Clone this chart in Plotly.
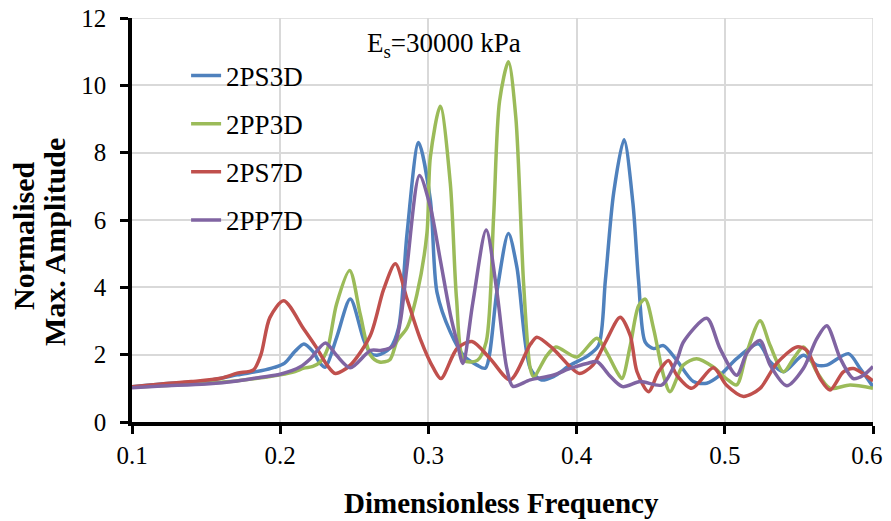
import plotly.graph_objects as go

# ---- data ----
x_2ps3d = [0.1, 0.12, 0.15, 0.171, 0.187, 0.196, 0.203, 0.21, 0.216, 0.222, 0.227, 0.2305, 0.238, 0.2473,
           0.2563, 0.2608, 0.2653, 0.2743, 0.2799, 0.2856, 0.2934, 0.3013, 0.3058, 0.3148, 0.3237, 0.3328,
           0.3384, 0.3463, 0.354, 0.3597, 0.3687, 0.376, 0.3844, 0.3957, 0.407, 0.4148, 0.4194, 0.425, 0.432,
           0.438, 0.4418, 0.4463, 0.452, 0.4586, 0.4676, 0.4788, 0.4878, 0.4968, 0.508, 0.5227, 0.5306,
           0.5396, 0.553, 0.562, 0.5688, 0.5834, 0.5913, 0.6]
y_2ps3d = [1.05, 1.13, 1.22, 1.4, 1.52, 1.62, 1.75, 2.1, 2.32, 2.1, 1.74, 1.63, 2.5, 3.65,
           2.45, 2.05, 1.98, 2.2, 2.8, 5.6, 8.3, 6.6, 3.85, 2.67, 1.98, 1.69,
           1.6, 3.9, 5.6, 4.6, 1.6, 1.25, 1.35, 1.69, 1.95, 2.27, 4.2, 6.8, 8.38,
           6.5, 4.2, 2.37, 2.18, 2.27, 1.83, 1.2, 1.15, 1.39, 1.88, 2.32, 1.79,
           1.49, 1.98, 1.69, 1.69, 2.03, 1.59, 1.05]

x_2pp3d = [0.1, 0.12, 0.15, 0.17, 0.19, 0.2, 0.21, 0.216, 0.222, 0.227, 0.232, 0.238, 0.2469, 0.254,
           0.261, 0.267, 0.274, 0.2788, 0.2856, 0.2923, 0.299, 0.3013, 0.308, 0.3148, 0.319, 0.324, 0.333,
           0.339, 0.344, 0.348, 0.354, 0.359, 0.3642, 0.3687, 0.371, 0.38, 0.386, 0.4002, 0.4137, 0.4204,
           0.4272, 0.4306, 0.4362, 0.4418, 0.4463, 0.452, 0.4586, 0.463, 0.472, 0.481, 0.492, 0.501, 0.508,
           0.5148, 0.5238, 0.5306, 0.5396, 0.5463, 0.553, 0.562, 0.571, 0.5845, 0.6]
y_2pp3d = [1.03, 1.08, 1.15, 1.22, 1.33, 1.4, 1.5, 1.6, 1.65, 1.78, 2.18, 3.5, 4.5, 3.2,
           1.98, 1.78, 1.85, 2.4, 2.8, 3.8, 5.6, 7.86, 9.38, 7.08, 3.65, 1.83, 1.83,
           2.38, 6.1, 9.53, 10.7, 9.04, 4.14, 1.59, 1.34, 1.98, 2.23, 1.93, 2.49, 2.06,
           1.49, 1.29, 2.27, 3.45, 3.65, 2.76, 1.39, 0.9, 1.69, 1.88, 1.64, 1.29, 1.1,
           2.06, 3.01, 2.27, 1.49, 1.88, 2.23, 1.49, 1.0, 1.1, 1.0]

x_2ps7d = [0.1, 0.12, 0.14, 0.16, 0.171, 0.182, 0.187, 0.193, 0.2024, 0.2159, 0.2249, 0.2316, 0.2372,
           0.2473, 0.2608, 0.2698, 0.2777, 0.2856, 0.2945, 0.3035, 0.3085, 0.3193, 0.3294, 0.3417, 0.3552,
           0.3687, 0.3732, 0.384, 0.3957, 0.402, 0.411, 0.42, 0.4294, 0.4362, 0.4407, 0.4485, 0.4553,
           0.462, 0.4676, 0.4777, 0.4923, 0.501, 0.5126, 0.5238, 0.535, 0.5486, 0.5553, 0.5643, 0.571,
           0.58, 0.5867, 0.6]
y_2ps7d = [1.05, 1.13, 1.2, 1.3, 1.45, 1.55, 2.0, 3.1, 3.6, 2.76, 2.18, 1.69, 1.44,
           1.69, 2.57, 3.94, 4.7, 3.65, 2.47, 1.59, 1.29, 2.18, 2.39, 1.88, 1.25,
           2.3, 2.52, 2.18, 1.64, 1.44, 1.69, 2.42, 3.11, 2.57, 1.5, 0.9, 1.49,
           1.83, 1.39, 1.0, 1.61, 1.1, 0.76, 1.0, 1.74, 2.23, 2.13, 1.29, 0.95,
           1.49, 1.59, 1.22]

x_2pp7d = [0.1, 0.12, 0.15, 0.171, 0.187, 0.2, 0.2136, 0.2204, 0.2305, 0.238, 0.2473, 0.261, 0.2685,
           0.2766, 0.2811, 0.2856, 0.294, 0.3013, 0.308, 0.3148, 0.3193, 0.3233, 0.33, 0.339, 0.346,
           0.3529, 0.357, 0.3687, 0.384, 0.3957, 0.407, 0.414, 0.422, 0.431, 0.4429, 0.4575, 0.468, 0.472,
           0.4878, 0.4968, 0.508, 0.515, 0.5238, 0.5306, 0.5418, 0.553, 0.562, 0.5688, 0.578, 0.5867,
           0.5935, 0.6]
y_2pp7d = [1.02, 1.07, 1.13, 1.22, 1.33, 1.42, 1.64, 1.88, 2.35, 1.98, 1.61, 2.13, 2.13,
           2.27, 3.0, 4.63, 7.32, 6.39, 4.82, 3.2, 2.38, 1.74, 3.55, 5.7, 3.94,
           1.59, 1.06, 1.25, 1.39, 1.59, 1.74, 1.79, 1.39, 1.05, 1.2, 1.1, 1.88, 2.37,
           3.08, 2.18, 1.39, 2.06, 2.42, 1.69, 1.08, 1.59, 2.47, 2.86, 1.88, 1.29,
           1.39, 1.65]

series = [
    ("2PS3D", x_2ps3d, y_2ps3d, "#4F81BD"),
    ("2PP3D", x_2pp3d, y_2pp3d, "#9BBB59"),
    ("2PS7D", x_2ps7d, y_2ps7d, "#C0504D"),
    ("2PP7D", x_2pp7d, y_2pp7d, "#8064A2"),
]

x_ticks = [0.1, 0.2, 0.3, 0.4, 0.5, 0.6]
y_ticks = [0, 2, 4, 6, 8, 10, 12]

FONT = "Liberation Serif"
FS = 27
TFS = 25

# last x label padded on the right so it stays inside the visible page area
x_ticktext = [str(t) for t in x_ticks]
x_ticktext[-1] = x_ticktext[-1] + "\u00a0\u00a0"

fig = go.Figure()
for i, (name, xs, ys, col) in enumerate(series):
    fig.add_trace(go.Scatter(
        x=xs, y=ys, name=name, mode="lines", legendgroup=f"g{i}",
        line=dict(color=col, width=3.5, shape="spline", smoothing=0.8),
    ))

# the page body adds an 8px margin, so the figure is sized to fit inside the window after it
fig.update_layout(
    width=875, height=513,
    margin=dict(l=124, r=10, t=10, b=99, autoexpand=False),
    paper_bgcolor="white", plot_bgcolor="white",
    font=dict(family=FONT, size=FS, color="black"),
    showlegend=True,
    legend=dict(x=0.073, y=0.917, xanchor="left", yanchor="top",
                bgcolor="rgba(0,0,0,0)", font=dict(size=FS, family=FONT),
                tracegroupgap=10),
    annotations=[
        dict(text="E<sub>s</sub>=30000 kPa", x=0.3105, y=11.19, xref="x", yref="y",
             showarrow=False, font=dict(size=FS, family=FONT)),
        dict(text="<b>Normalised</b>", x=-0.1457, y=0.4604, xref="paper", yref="paper",
             xanchor="center", yanchor="middle",
             textangle=-90, showarrow=False, font=dict(size=30, family=FONT)),
        dict(text="<b>Max. Amplitude</b>", x=-0.1053, y=0.4455, xref="paper", yref="paper",
             xanchor="center", yanchor="middle",
             textangle=-90, showarrow=False, font=dict(size=30, family=FONT)),
        dict(text="<b>Dimensionless Frequency</b>", x=0.498, y=-0.2005, xref="paper", yref="paper",
             xanchor="center", yanchor="middle",
             showarrow=False, font=dict(size=29, family=FONT)),
    ],
)
fig.update_xaxes(
    range=[0.1, 0.6], tickvals=x_ticks, ticktext=x_ticktext,
    showgrid=True, gridcolor="#d9d9d9", gridwidth=1.5,
    showline=True, linecolor="black", linewidth=3.5,
    ticks="outside", ticklen=8, tickwidth=2.5, tickcolor="black",
    tickfont=dict(size=TFS, family=FONT), automargin=False, ticklabeloverflow="allow",
    zeroline=False,
)
fig.update_yaxes(
    range=[0, 12], tickvals=y_ticks,
    showgrid=True, gridcolor="#d9d9d9", gridwidth=1.5,
    showline=True, linecolor="black", linewidth=3.5,
    ticks="outside", ticklen=8, tickwidth=2.5, tickcolor="black",
    tickfont=dict(size=TFS, family=FONT), automargin=False, ticklabelstandoff=9,
    ticklabeloverflow="allow",
    zeroline=False,
)
# top and right gridlines visible as in reference
fig.add_shape(type="line", xref="paper", yref="y", x0=0, x1=1, y0=12, y1=12,
              line=dict(color="#d9d9d9", width=1.5), layer="below")
fig.add_shape(type="line", xref="x", yref="paper", x0=0.6, x1=0.6, y0=0, y1=1,
              line=dict(color="#d9d9d9", width=1.5), layer="below")

fig.write_html("out.html")
